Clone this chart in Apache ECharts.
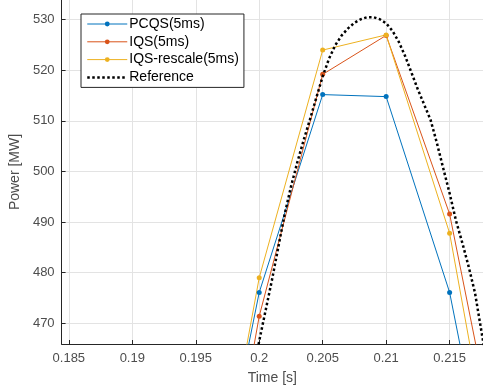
<!DOCTYPE html>
<html>
<head>
<meta charset="utf-8">
<script src="https://cdn.jsdelivr.net/npm/echarts@6/dist/echarts.min.js"></script>
<style>
html,body{margin:0;padding:0;background:#fff;}
#chart{width:483px;height:390px;}
</style>
</head>
<body>
<div id="chart"></div>
<script>
// ---- data ----
const sampleTime = [0.195, 0.2, 0.205, 0.21, 0.215, 0.22];
const pcqs = [414, 476.1, 515.2, 514.8, 476.1, 413];
const iqs = [401, 471.4, 519.2, 526.9, 491.6, 429];
const iqsRescale = [411, 479.0, 524.0, 527.0, 487.8, 418.8];

const refTime = [0.1995, 0.2, 0.2005, 0.201, 0.2015, 0.202, 0.2025, 0.203, 0.2035, 0.204,
  0.2045, 0.205, 0.2055, 0.206, 0.2065, 0.207, 0.2075, 0.208, 0.2085, 0.209,
  0.2095, 0.21, 0.2105, 0.211, 0.2115, 0.212, 0.2125, 0.213, 0.2135, 0.214,
  0.2145, 0.215, 0.2155, 0.216, 0.2165, 0.217, 0.2175, 0.218];
const refPower = [460, 466.5, 472.5, 478.5, 485, 491.5, 497, 501.8, 506.2, 510.3,
  514.6, 518.8, 522.3, 525, 526.9, 528.3, 529.4, 530.1, 530.5, 530.5,
  530.1, 529.3, 527.8, 525.6, 522.8, 519.5, 516.2, 513.2, 510.2, 505.6,
  500.6, 495.7, 490.3, 485.9, 481.2, 476, 468.5, 461];

const xTicks = [0.185, 0.19, 0.195, 0.2, 0.205, 0.21, 0.215];
const yTicks = [470, 480, 490, 500, 510, 520, 530];

const seriesNames = ['PCQS(5ms)', 'IQS(5ms)', 'IQS-rescale(5ms)', 'Reference'];
const colors = ['#0072BD', '#D95319', '#EDB120', '#000000'];

const zip = (a, b) => a.map((v, i) => [v, b[i]]);

const chart = echarts.init(document.getElementById('chart'));
const font = 'Liberation Sans, Arial, sans-serif';
const axisColor = '#262626';
const labelColor = '#4d4d4d';

function markerSeries(name, vals, color) {
  return {
    name: name, type: 'line', data: zip(sampleTime, vals),
    symbol: 'circle', symbolSize: 5, showSymbol: true,
    itemStyle: {color: color},
    lineStyle: {color: color, width: 1},
    clip: true, animation: false, z: 3
  };
}

chart.setOption({
  animation: false,
  backgroundColor: '#fff',
  grid: {left: 57, right: 0, top: 0, bottom: 42, containLabel: false},
  xAxis: {
    type: 'value', min: 0.18443, max: 0.21763,
    name: 'Time [s]', nameLocation: 'middle', nameGap: 27,
    nameTextStyle: {color: labelColor, fontSize: 14, fontFamily: font},
    axisLine: {show: true, onZero: false, lineStyle: {color: axisColor, width: 1}},
    axisTick: {show: true, inside: true, length: 4, customValues: xTicks, lineStyle: {color: axisColor}},
    axisLabel: {customValues: xTicks, color: labelColor, fontSize: 13, fontFamily: font, margin: 8,
      formatter: v => String(+v.toFixed(3))},
    splitLine: {show: true, lineStyle: {color: '#e3e3e3', width: 1}}
  },
  yAxis: {
    type: 'value', min: 465.9, max: 533.9,
    name: 'Power [MW]', nameLocation: 'middle', nameGap: 31, nameRotate: 90,
    nameTextStyle: {color: labelColor, fontSize: 14, fontFamily: font},
    axisLine: {show: true, onZero: false, lineStyle: {color: axisColor, width: 1}},
    axisTick: {show: true, inside: true, length: 4, customValues: yTicks, lineStyle: {color: axisColor}},
    axisLabel: {customValues: yTicks, color: labelColor, fontSize: 13, fontFamily: font, margin: 7},
    splitLine: {show: true, lineStyle: {color: '#e3e3e3', width: 1}}
  },
  legend: {
    orient: 'vertical', left: 81, top: 14,
    data: seriesNames.map((n, i) => (i === 3 ? {
      name: n,
      lineStyle: {width: 2.5, type: 'dotted', color: '#000'},
      itemStyle: {color: 'rgba(0,0,0,0)', borderColor: 'rgba(0,0,0,0)', borderWidth: 0}
    } : {
      name: n,
      lineStyle: {width: 1, color: colors[i]}
    })),
    backgroundColor: '#fff', borderColor: '#262626', borderWidth: 1, borderRadius: 0,
    padding: [3, 5, 3, 5],
    itemWidth: 40, itemHeight: 6, itemGap: 3.8,
    textStyle: {color: '#000', fontSize: 14, fontFamily: font, padding: [0, 0, 0, -3], lineHeight: 14}
  },
  series: [
    markerSeries(seriesNames[0], pcqs, colors[0]),
    markerSeries(seriesNames[1], iqs, colors[1]),
    markerSeries(seriesNames[2], iqsRescale, colors[2]),
    {
      name: seriesNames[3], type: 'line', data: zip(refTime, refPower),
      symbol: 'none', showSymbol: false,
      itemStyle: {color: colors[3]},
      lineStyle: {color: colors[3], width: 2.5, type: 'dotted'},
      clip: true, animation: false, z: 4
    }
  ]
});
</script>
</body>
</html>
